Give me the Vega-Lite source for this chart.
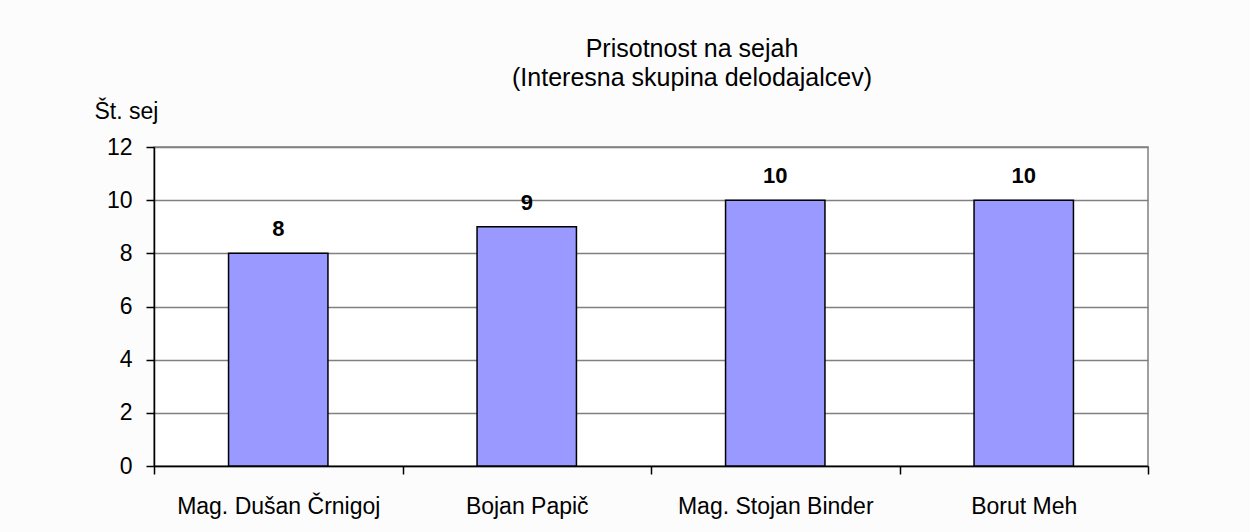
{
  "$schema": "https://vega.github.io/schema/vega-lite/v6.json",
  "autosize": {"type": "none"},
  "width": 994,
  "height": 319,
  "padding": {"left": 154, "top": 147, "right": 102, "bottom": 66},
  "background": "#fcfcfc",
  "config": {
    "font": "Liberation Sans",
    "view": {"stroke": "#808080", "strokeWidth": 1.5, "fill": "white"}
  },
  "title": {
    "text": ["Prisotnost na sejah", "(Interesna skupina delodajalcev)"],
    "fontSize": 25,
    "fontWeight": "normal",
    "color": "black",
    "anchor": "middle",
    "frame": "group",
    "dx": 41,
    "offset": 9,
    "lineHeight": 29
  },
  "data": {
    "values": [
      {"oseba": "Mag. Dušan Črnigoj", "seje": 8},
      {"oseba": "Bojan Papič", "seje": 9},
      {"oseba": "Mag. Stojan Binder", "seje": 10},
      {"oseba": "Borut Meh", "seje": 10}
    ]
  },
  "encoding": {
    "x": {
      "field": "oseba",
      "type": "nominal",
      "sort": null,
      "scale": {"paddingInner": 0, "paddingOuter": 0},
      "axis": {
        "title": null,
        "labelAngle": 0,
        "labelFontSize": 23,
        "labelColor": "black",
        "labelPadding": 21,
        "labelLimit": 400,
        "tickBand": "extent",
        "tickSize": 8,
        "tickColor": "black",
        "tickWidth": 1.5,
        "domainColor": "black",
        "domainWidth": 1.5,
        "grid": false
      }
    },
    "y": {
      "field": "seje",
      "type": "quantitative",
      "scale": {"domain": [0, 12], "nice": false},
      "axis": {
        "values": [0, 2, 4, 6, 8, 10, 12],
        "title": "Št. sej",
        "titleAngle": 0,
        "titleFontSize": 23,
        "titleFontWeight": "normal",
        "titleColor": "black",
        "titleAlign": "left",
        "titleBaseline": "alphabetic",
        "titleX": -60,
        "titleY": -29,
        "labelFontSize": 23,
        "labelColor": "black",
        "labelPadding": 14,
        "tickSize": 8,
        "tickColor": "black",
        "tickWidth": 1.5,
        "domainColor": "black",
        "domainWidth": 1.5,
        "grid": true,
        "gridColor": "#808080",
        "gridWidth": 1.5,
        "gridOpacity": 1
      }
    }
  },
  "layer": [
    {
      "mark": {"type": "bar", "width": {"band": 0.4}, "fill": "#9999ff", "stroke": "black", "strokeWidth": 1.5}
    },
    {
      "mark": {"type": "text", "fontSize": 22, "fontWeight": "bold", "color": "black", "baseline": "alphabetic", "dy": -17},
      "encoding": {"text": {"field": "seje", "type": "quantitative"}}
    }
  ]
}
